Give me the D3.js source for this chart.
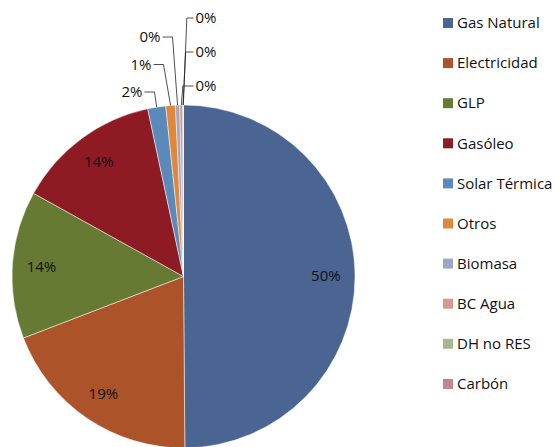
<!DOCTYPE html>
<html>
<head>
<meta charset="utf-8">
<script src="https://cdn.jsdelivr.net/npm/d3@7"></script>
<style>
  body { margin: 0; background: #fff; }
  svg { display: block; font-family: "Open Sans", Lato, sans-serif; }
</style>
</head>
<body>
<svg width="555" height="447"></svg>
<script>
// chart data
var categories = ["Gas Natural", "Electricidad", "GLP", "Gasóleo", "Solar Térmica",
                  "Otros", "Biomasa", "BC Agua", "DH no RES", "Carbón"]
var values = [49.9, 19.3, 13.9, 13.6, 1.7, 0.9, 0.4, 0.3, 0.02, 0.03]
var colors = ["#4A6591", "#AD532A", "#677A33", "#8E1A24", "#5A8AB9",
              "#E0873C", "#9AA8C4", "#D59A8A", "#A8B790", "#C4858A"]

var svg = d3.select("svg"),
	cx = 183.5, cy = 276.5, radius = 171.5,
	fontSize = "15px", ink = "#111"

var data = categories.map((c, i) => ({ name: c, value: values[i], color: colors[i] }))
var total = d3.sum(values)

var pie = d3.pie().value(d => d.value).sort(null)
var arcs = pie(data)
var arc = d3.arc().innerRadius(0).outerRadius(radius)

var g = svg.append("g").attr("transform", "translate(" + cx + "," + cy + ")")

g.selectAll("path").data(arcs).enter().append("path")
	.attr("d", arc)
	.attr("fill", d => d.data.color)
	.attr("stroke", "#fff")
	.attr("stroke-width", 0.5)

function pct(d) { return Math.round(d.data.value / total * 100) + "%" }

// big slices: label inside
var inside = arcs.filter(d => d.data.value / total > 0.05)
var labelArc = d3.arc().innerRadius(radius * 0.83).outerRadius(radius * 0.83)
g.selectAll("text.in").data(inside).enter().append("text")
	.attr("class", "in")
	.attr("transform", d => "translate(" + labelArc.centroid(d) + ")")
	.attr("text-anchor", "middle")
	.attr("dy", "0.35em")
	.style("font-size", fontSize)
	.style("fill", ink)
	.text(pct)

// small slices: label outside with leader line
var outside = arcs.filter(d => d.data.value / total <= 0.05)
var leftGroup = outside.slice(0, 3), rightGroup = outside.slice(3)

function edge(d) {
	var a = (d.startAngle + d.endAngle) / 2
	return [radius * Math.sin(a), -radius * Math.cos(a)]
}

leftGroup.forEach(function(d, k) {
	var p = edge(d)
	var ty = -radius - 13 - k * 27.5
	var tx = -41 + k * 9
	var ex = tx + 12
	g.append("polyline")
		.attr("points", [[tx + 2, ty], [ex, ty], [p[0], p[1]]].join(" "))
		.attr("fill", "none").attr("stroke", "#222").attr("stroke-width", 0.8)
	g.append("text")
		.attr("x", tx).attr("y", ty).attr("dy", "0.35em")
		.attr("text-anchor", "end")
		.style("font-size", fontSize).style("fill", ink)
		.text(pct(d))
})

rightGroup.forEach(function(d, j) {
	var p = edge(d)
	var ty = -radius - 19 - j * 34
	var tx = 12
	var ex = p[0] + 1.5 + j * 1
	g.append("polyline")
		.attr("points", [[tx - 2, ty], [ex, ty], [p[0], p[1]]].join(" "))
		.attr("fill", "none").attr("stroke", "#222").attr("stroke-width", 0.8)
	g.append("text")
		.attr("x", tx).attr("y", ty).attr("dy", "0.35em")
		.style("font-size", fontSize).style("fill", ink)
		.text(pct(d))
})

// legend
var legend = svg.append("g").attr("transform", "translate(443,18)")
var row = legend.selectAll("g").data(data).enter().append("g")
	.attr("transform", (d, i) => "translate(0," + (i * 40.1) + ")")
row.append("rect")
	.attr("width", 10).attr("height", 10)
	.attr("fill", d => d.color)
row.append("text")
	.attr("x", 14).attr("y", 5).attr("dy", "0.35em")
	.style("font-size", fontSize).style("fill", ink)
	.text(d => d.name)
</script>
</body>
</html>
